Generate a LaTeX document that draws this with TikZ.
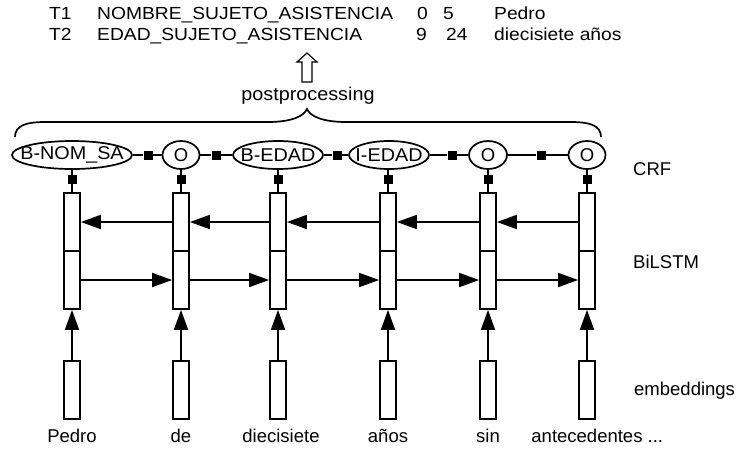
\documentclass[tikz,border=0pt]{standalone}
\usepackage{fontspec}
\setmainfont{Liberation Sans}
\usetikzlibrary{arrows.meta,shapes.geometric}
\begin{document}
\begin{tikzpicture}[x=1pt,y=-1pt,
  txt/.style={font=\fontsize{18.5}{21}\selectfont, inner sep=0pt},
  toptxt/.style={font=\fontsize{17.5}{20}\selectfont, inner sep=0pt, anchor=base west},
  crf/.style={draw, ellipse, line width=1.7pt, minimum height=28pt, inner sep=0pt, font=\fontsize{18.5}{21}\selectfont},
  fsq/.style={fill=black, minimum size=9pt, inner sep=0pt},
  cell/.style={draw, fill=white, minimum width=16pt, minimum height=58pt, inner sep=0pt, line width=1.7pt},
  conn/.style={line width=1.7pt},
  arr/.style={line width=1.7pt, -{Triangle[length=20pt,width=14pt]}}
]
\useasboundingbox (0,0) rectangle (742,448);

% top text
\newcommand{\hs}[1]{\scalebox{1.1}[1]{#1}}
\newcommand{\ws}[1]{\scalebox{1.07}[1]{#1}}
\node[toptxt] (t1) at (49,19.5) {\hs{T1}};
\node[toptxt] (n1) at (97,19.5) {\hs{NOMBRE\_SUJETO\_ASISTENCIA}};
\node[toptxt] (s1) at (417,19.5) {\hs{0}};
\node[toptxt] (e1) at (443,19.5) {\hs{5}};
\node[toptxt] (w1) at (494,19.5) {\hs{Pedro}};
\node[toptxt] (t2) at (49,40.5) {\hs{T2}};
\node[toptxt] (n2) at (97,40.5) {\hs{EDAD\_SUJETO\_ASISTENCIA}};
\node[toptxt] (s2) at (416,40.5) {\hs{9}};
\node[toptxt] (e2) at (446,40.5) {\hs{24}};
\node[toptxt] (w2) at (494,40.5) {\hs{diecisiete años}};

% hollow arrow
\draw[line width=1.2pt, fill=white] (302,82) -- (302,62) -- (297,62) -- (307,53) -- (317,62) -- (312,62) -- (312,82) -- cycle;
\node[txt, anchor=base] (pp) at (308,100) {\ws{postprocessing}};

% brace
\draw[conn] (15,137) .. controls (15,126) and (25,122) .. (45,122) -- (268,122)
  .. controls (292,122) and (304,116) .. (307,109)
  .. controls (310,116) and (322,122) .. (346,122) -- (571,122)
  .. controls (591,122) and (601,126) .. (601,137);

% CRF layer
\node[crf, minimum width=120pt] (c1) at (72,155) {\makebox[0pt]{\ws{B-NOM\_SA}}};
\node[crf, minimum width=37pt] (c2) at (181,155) {\makebox[0pt]{O}};
\node[crf, minimum width=90pt] (c3) at (278,155) {\makebox[0pt]{\ws{B-EDAD}}};
\node[crf, minimum width=80pt] (c4) at (389,155) {\makebox[0pt]{\ws{I-EDAD}}};
\node[crf, minimum width=38pt] (c5) at (488,155) {\makebox[0pt]{O}};
\node[crf, minimum width=37pt] (c6) at (587,155) {\makebox[0pt]{O}};

\node[fsq] (h12) at (148,155) {};
\node[fsq] (h23) at (216,155) {};
\node[fsq] (h34) at (337,155) {};
\node[fsq] (h45) at (452,155) {};
\node[fsq] (h56) at (541,155) {};
\draw[conn] (c1) -- (h12) -- (c2);
\draw[conn] (c2) -- (h23) -- (c3);
\draw[conn] (c3) -- (h34) -- (c4);
\draw[conn] (c4) -- (h45) -- (c5);
\draw[conn] (c5) -- (h56) -- (c6);

% columns
\foreach \i/\x in {1/72,2/181,3/278,4/388,5/488,6/587}{
  \node[cell] (u\i) at (\x,222) {};
  \node[cell] (l\i) at (\x,280) {};
  \node[cell] (e\i) at (\x,390) {};
  \node[fsq] (v\i) at (\x,179.5) {};
  \draw[conn] (c\i.south -| v\i) -- (v\i) -- (u\i.north);
  \draw[arr] (e\i.north) -- (l\i.south);
}
\foreach \a/\b in {1/2,2/3,3/4,4/5,5/6}{
  \draw[arr] (u\b.west) -- (u\a.east);
  \draw[arr] (l\a.east) -- (l\b.west);
}

% words
\node[txt, anchor=base] (p1) at (72,442) {Pedro};
\node[txt, anchor=base] (p2) at (181,442) {de};
\node[txt, anchor=base] (p3) at (281,442) {diecisiete};
\node[txt, anchor=base] (p4) at (388,442) {años};
\node[txt, anchor=base] (p5) at (488,442) {sin};
\node[txt, anchor=base] (p6) at (587,442) {antecedentes\rlap{ ...}};

% layer labels
\node[txt, anchor=base west] (lc) at (633,175) {CRF};
\node[txt, anchor=base west] (lb) at (633,268) {BiLSTM};
\node[txt, anchor=base west] (le) at (634,395) {embeddings};
\end{tikzpicture}
\end{document}
